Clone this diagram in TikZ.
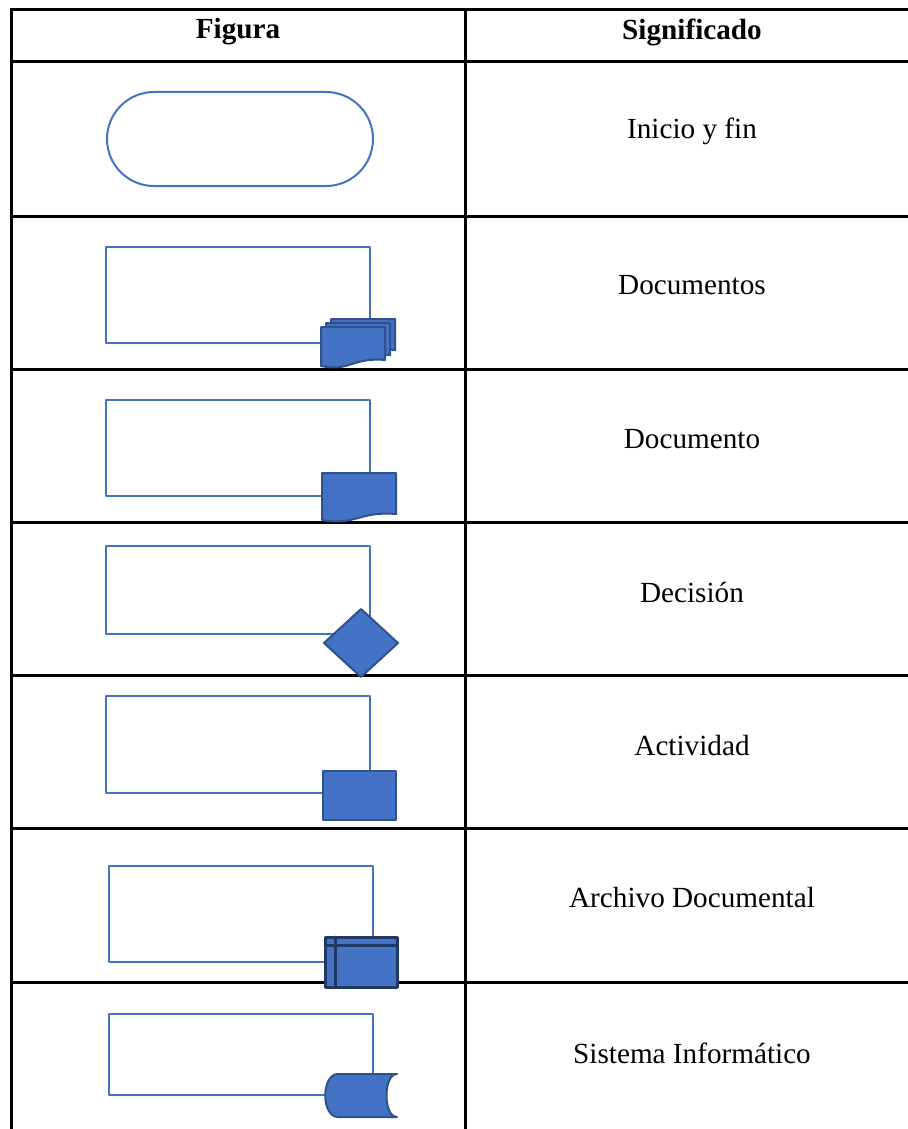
\documentclass[tikz,border=0pt]{standalone}
\usepackage{fontspec}
\setmainfont{Liberation Serif}
\usepackage{tikz}
\usetikzlibrary{positioning}
\usetikzlibrary{calc}

\definecolor{figblue}{HTML}{4472C4}
\definecolor{figedge}{HTML}{2F528F}
\definecolor{archedge}{HTML}{1F3864}

\tikzset{
	grid/.style={line width=1.5pt, black},
	outline/.style={line width=1pt, draw=figblue},
	icon/.style={line width=1pt, draw=figedge, fill=figblue},
	label/.style={font=\fontsize{14.6}{17}\selectfont, inner sep=0pt}
}

% document shape: left x, top y, right x, lowest y
\newcommand{\docicon}[4]{
	\draw[icon] (#1,#2) -- (#3,#2) -- (#3,{#4-8})
		.. controls ({#3-0.5*(#3-#1)},{#4-11}) and ({#1+0.45*(#3-#1)},{#4+4}) .. (#1,{#4-2}) -- cycle;
}

\begin{document}
\begin{tikzpicture}[line cap=round,line join=round,x=0.5pt,y=-0.5pt]
	\useasboundingbox (0,0) rectangle (907,1129);
	
	% table
	\foreach \y in {10,62,216,369,522,675,828,982}
		\draw [grid, line cap=rect] (11,\y) -- (907,\y);
	\draw [grid] (11,10) -- (11,1129);
	\draw [grid] (465,10) -- (465,1129);
	
	\node [label, font=\fontsize{14.6}{17}\selectfont\bfseries] (hfig) at (238,32) {Figura};
	\node [label, font=\fontsize{14.6}{17}\selectfont\bfseries] (hsig) at (692,32) {Significado};
	
	% inicio y fin
	\draw [outline, rounded corners=23.5pt] (107,92) rectangle (373,186);
	\node [label] (tinicio) at (692,131) {Inicio y fin};
	
	% documentos
	\draw [outline] (106,247) rectangle (370,343);
	\docicon{331}{319}{395}{358}
	\docicon{326}{323}{390}{363}
	\docicon{321}{327}{385}{368}
	\node [label] (tdocs) at (692,285) {Documentos};
	
	% documento
	\draw [outline] (106,400) rectangle (370,496);
	\docicon{322}{473}{396}{522}
	\node [label] (tdoc) at (692,439) {Documento};
	
	% decision
	\draw [outline] (106,546) rectangle (370,634);
	\draw [icon] (361,609) -- (398,643) -- (361,677) -- (324,643) -- cycle;
	\node [label] (tdec) at (692,592) {Decisión};
	
	% actividad
	\draw [outline] (106,696) rectangle (370,793);
	\draw [icon] (323,771) rectangle (396,820);
	\node [label] (tact) at (692,746) {Actividad};
	
	% archivo documental
	\draw [outline] (109,866) rectangle (373,962);
	\draw [fill=figblue, draw=archedge, line width=1.5pt] (325,937) rectangle (397,987);
	\draw [archedge, line width=1.5pt] (325,945) -- (397,945);
	\draw [archedge, line width=1.5pt] (335,937) -- (335,987);
	\node [label] (tarch) at (692,898) {Archivo Documental};
	
	% sistema informatico
	\draw [outline] (109,1014) rectangle (373,1095);
	\draw [icon] (397,1074) -- (338,1074) .. controls (321,1074) and (321,1117) .. (338,1117)
		-- (397,1117) .. controls (383,1117) and (383,1074) .. (397,1074) -- cycle;
	\node [label] (tsis) at (692,1053) {Sistema Informático};
\end{tikzpicture}
\end{document}
